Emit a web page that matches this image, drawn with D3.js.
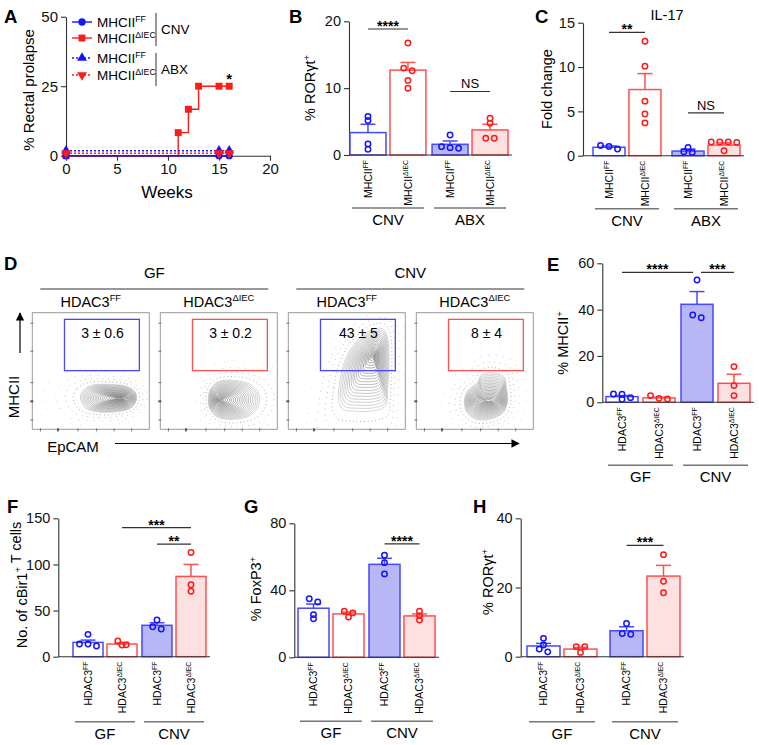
<!DOCTYPE html>
<html>
<head>
<meta charset="utf-8">
<script src="https://cdn.jsdelivr.net/npm/d3@7"></script>
<style>
  body { margin: 0; background: #fff; }
  svg { font-family: "Liberation Sans", Arial, Helvetica, sans-serif; }
</style>
</head>
<body>
<svg id="fig" width="759" height="745"></svg>
<script>
// ---------- data ----------
// A: rectal prolapse over time
const weekTicks = [0, 5, 10, 15, 20];
const prolapseTicks = [0, 25, 50];
const weeksCnvFF = [0, 15, 16];
const prolapseCnvFF = [0, 0, 0];
const weeksCnvKO = [0, 11, 12, 13, 15, 16];
const prolapseCnvKO = [0, 8.3, 16.7, 25, 25, 25];
const weeksAbx = [0, 15, 16];
const prolapseAbxFF = [1.8, 1.8, 1.8]; // drawn offset from 0 in the original
const prolapseAbxKO = [0.9, 0.9, 0.9];
const prolapseStar = [16, 28.7];

const genotypes = ["FF", "ΔIEC"];
const groupsMhc = ["CNV", "ABX"];
const groupsHdac = ["GF", "CNV"];

// B: % RORgt+
const rorB_mean = [3.35, 12.7, 1.6, 3.75];
const rorB_err = [4.6, 13.85, 2.1, 4.6];
const rorB_pts = [[5.75, 5.15, 1.65, 0.85], [16.75, 13.0, 12.6, 11.15, 10.0], [3.0, 1.25, 1.1, 1.0], [5.5, 4.75, 2.5, 2.5]];

// C: IL-17 fold change
const il17_mean = [0.95, 7.46, 0.52, 1.2];
const il17_err = [1.1, 9.26, 0.75, 1.45];
const il17_pts = [[0.75, 1.15, 1.05], [12.9, 10.1, 6.15, 4.7, 3.7], [0.94, 0.45, 0.37], [1.55, 1.55, 1.55, 1.5, 0.55]];

// D: flow gates
const flowGate = ["3 ± 0.6", "3 ± 0.2", "43 ± 5", "8 ± 4"];

// E: % MHCII+
const mhc_mean = [2.45, 1.9, 42.3, 8.2];
const mhc_err = [2.9, 2.2, 47.8, 12.1];
const mhc_pts = [[3.6, 1.3, 3.45, 2.0], [1.45, 2.9, 1.7], [52.8, 36.5, 37.7], [15.4, 7.2, 2.9]];

// F: cBir1+ T cells
const cbir_mean = [15.5, 13.7, 34, 87];
const cbir_err = [18, 14.8, 36.8, 100];
const cbir_pts = [[11.6, 24.2, 13.7, 13.7], [17, 12.6, 13], [30, 39.7, 32.5], [113, 78, 71]];

// G: % FoxP3+
const foxp3_mean = [29.3, 25.9, 55.5, 24.7];
const foxp3_err = [31.8, 27, 59.1, 25.9];
const foxp3_pts = [[35, 33, 25.5, 23], [27.5, 26.5, 24], [61, 56.5, 49.8], [27.5, 24.9, 22.3]];

// H: % RORgt+
const rorH_mean = [3.1, 2.2, 7.5, 23.3];
const rorH_err = [3.85, 2.7, 8.65, 26.4];
const rorH_pts = [[5.3, 3.4, 1.4, 2.2], [2.9, 2.9, 1.25], [9.6, 6.5, 6.7], [29.5, 21.8, 18.5]];

// ---------- drawing ----------
const svg = d3.select("#fig");
const defs = svg.append("defs");
const col = {
  blue: "#1414ff", red: "#ff1a1a",
  blueLine: "#4848ff", redLine: "#ff5050",
  blueFill: "#b7b7f6", redFill: "#fde0e0",
  axis: "#333", group: "#777"
};
const barStyle = [
  { fill: "#fff", stroke: col.blueLine, dot: col.blue },
  { fill: "#fff", stroke: col.redLine, dot: col.red },
  { fill: col.blueFill, stroke: col.blueLine, dot: col.blue },
  { fill: col.redFill, stroke: col.redLine, dot: col.red }
];

function styleAxis(size) {
  return g => {
    g.selectAll("path, line").attr("stroke", col.axis).attr("stroke-width", 1.1);
    g.selectAll("text").attr("font-size", size).attr("fill", "#111")
      .attr("font-family", '"Liberation Sans", Arial, sans-serif');
  };
}

function supText(sel, parts, size) {
  parts.forEach(([t, sup]) => {
    if (sup) sel.append("tspan").attr("font-size", size * 0.65).attr("dy", -size * 0.38).text(t)
      .clone().text("").attr("dy", size * 0.38);
    else sel.append("tspan").text(t);
  });
}

function letter(t, x, y) {
  svg.append("text").attr("x", x).attr("y", y).attr("font-size", 18.5)
    .attr("font-weight", "bold").text(t);
}

function rotLabel(x, y, parts, size) {
  const t = svg.append("text").attr("transform", `translate(${x},${y}) rotate(-90)`)
    .attr("text-anchor", "middle").attr("dy", "0.35em").attr("font-size", size);
  supText(t, parts, size);
}

// ---------- A ----------
function panelA() {
  const x = d3.scaleLinear().domain([0, 20]).range([66, 270]);
  const y = d3.scaleLinear().domain([0, 50]).range([155.7, 16.7]);
  letter("A", 4, 23);
  svg.append("g").attr("transform", "translate(66,0)")
    .call(d3.axisLeft(y).tickValues(prolapseTicks).tickSize(5).tickSizeOuter(0)).call(styleAxis(15));
  svg.append("g").attr("transform", "translate(0,155.7)")
    .call(d3.axisBottom(x).tickValues(weekTicks).tickSize(5).tickSizeOuter(0)).call(styleAxis(15));
  svg.append("text").attr("x", 167).attr("y", 198).attr("text-anchor", "middle")
    .attr("font-size", 17).text("Weeks");
  rotLabel(29, 90, [["% Rectal prolapse", false]], 15);

  const series = [
    { w: weeksCnvKO, v: prolapseCnvKO, c: col.red, dash: null, sym: d3.symbolSquare, size: 48, step: true, label: "ΔIEC" },
    { w: weeksCnvFF, v: prolapseCnvFF, c: col.blue, dash: null, sym: d3.symbolCircle, size: 42, label: "FF" },
    { w: weeksAbx, v: prolapseAbxFF, c: col.blue, dash: "2,2", sym: d3.symbolTriangle, size: 42, label: "FF" },
    { w: weeksAbx, v: prolapseAbxKO, c: col.red, dash: "2,2", sym: d3.symbolTriangle, size: 42, flip: true, label: "ΔIEC" }
  ];
  series.forEach(s => {
    const line = d3.line().x(d => x(d[0])).y(d => y(d[1]));
    if (s.step) line.curve(d3.curveStepAfter);
    const pts = s.w.map((w, i) => [w, s.v[i]]);
    svg.append("path").attr("d", line(pts)).attr("fill", "none").attr("stroke", s.c)
      .attr("stroke-width", 1.4).attr("stroke-dasharray", s.dash);
    svg.selectAll(null).data(pts).enter().append("path")
      .attr("d", d3.symbol(s.sym, s.size)())
      .attr("transform", d => `translate(${x(d[0])},${y(d[1])})${s.flip ? " rotate(180)" : ""}`)
      .attr("fill", s.c);
  });
  svg.append("text").attr("x", x(prolapseStar[0])).attr("y", y(prolapseStar[1]) + 8)
    .attr("text-anchor", "middle").attr("font-size", 15).attr("font-weight", "bold").text("*");

  // legend
  const order = [series[1], series[0], series[2], series[3]];
  const rowY = [22, 38, 58, 75];
  order.forEach((s, i) => {
    svg.append("line").attr("x1", 72).attr("x2", 92).attr("y1", rowY[i]).attr("y2", rowY[i])
      .attr("stroke", s.c).attr("stroke-width", 1.4).attr("stroke-dasharray", s.dash);
    svg.append("path").attr("d", d3.symbol(s.sym, s.size)())
      .attr("transform", `translate(82,${rowY[i]})${s.flip ? " rotate(180)" : ""}`).attr("fill", s.c);
    const t = svg.append("text").attr("x", 97).attr("y", rowY[i]).attr("dy", "0.35em").attr("font-size", 13.5);
    supText(t, [["MHCII", false], [s.label, true]], 13.5);
  });
  [[13, 46, "CNV"], [53, 86, "ABX"]].forEach(([a, b, t]) => {
    svg.append("line").attr("x1", 156).attr("x2", 156).attr("y1", a).attr("y2", b)
      .attr("stroke", "#333").attr("stroke-width", 1);
    svg.append("text").attr("x", 161).attr("y", (a + b) / 2).attr("dy", "0.35em")
      .attr("font-size", 13.5).text(t);
  });
}

// ---------- bar panels ----------
function barPanel(cfg) {
  const y = d3.scaleLinear().domain([0, cfg.max]).range([cfg.y0, cfg.y1]);
  const outer = d3.scaleBand().domain(cfg.groups).range([cfg.x0, cfg.x1]).paddingInner(cfg.gp);
  const inner = d3.scaleBand().domain(genotypes).range([0, outer.bandwidth()]).paddingInner(cfg.bp);
  const bw = inner.bandwidth();
  const left = i => outer(cfg.groups[Math.floor(i / 2)]) + inner(genotypes[i % 2]);
  const cx = i => left(i) + bw / 2;

  letter(cfg.letter[0], cfg.letter[1], cfg.letter[2]);
  svg.append("g").attr("transform", `translate(${cfg.ax},0)`)
    .call(d3.axisLeft(y).tickValues(cfg.ticks).tickSize(5).tickSizeOuter(0)).call(styleAxis(14.5));
  rotLabel(cfg.ylab[0], cfg.ylab[1], cfg.ylab[2], 14.5);

  const bars = d3.range(4).map(i => ({ i, mean: cfg.mean[i], err: cfg.err[i], pts: cfg.pts[i] }));
  const g = svg.append("g");
  g.selectAll("rect").data(bars).enter().append("rect")
    .attr("x", d => left(d.i)).attr("width", bw)
    .attr("y", d => y(d.mean)).attr("height", d => y(0) - y(d.mean))
    .attr("fill", d => barStyle[d.i].fill).attr("stroke", d => barStyle[d.i].stroke)
    .attr("stroke-width", 1.5);
  bars.forEach(d => {
    const s = barStyle[d.i].stroke;
    g.append("line").attr("x1", cx(d.i)).attr("x2", cx(d.i)).attr("y1", y(d.mean)).attr("y2", y(d.err))
      .attr("stroke", s).attr("stroke-width", 1.5);
    g.append("line").attr("x1", cx(d.i) - 7.5).attr("x2", cx(d.i) + 7.5).attr("y1", y(d.err)).attr("y2", y(d.err))
      .attr("stroke", s).attr("stroke-width", 1.5);
    // arrange dots in rows, like a column scatter
    const sorted = d.pts.slice().sort((a, b) => b - a);
    const rows = [];
    sorted.forEach(v => {
      const r = rows[rows.length - 1];
      if (r && Math.abs(y(v) - y(r[0])) < 4) r.push(v); else rows.push([v]);
    });
    rows.forEach(r => r.forEach((v, k) => {
      g.append("circle").attr("cx", cx(d.i) + (k - (r.length - 1) / 2) * 8.5).attr("cy", y(v))
        .attr("r", 2.7).attr("fill", "none").attr("stroke", barStyle[d.i].dot).attr("stroke-width", 1.5);
    }));
  });
  // x baseline
  svg.append("line").attr("x1", cfg.ax).attr("x2", cfg.x1 + 4).attr("y1", y(0)).attr("y2", y(0))
    .attr("stroke", col.axis).attr("stroke-width", 1.1);

  // rotated category labels
  bars.forEach(d => {
    const t = svg.append("text").attr("transform", `translate(${cx(d.i)},${y(0) + 5}) rotate(-90)`)
      .attr("text-anchor", "end").attr("dy", "0.35em").attr("font-size", 10.5);
    supText(t, [[cfg.base, false], [genotypes[d.i % 2], true]], 10.5);
  });
  // group labels
  cfg.groups.forEach(gname => {
    const a = outer(gname) + 2, b = outer(gname) + outer.bandwidth() - 2;
    svg.append("line").attr("x1", a).attr("x2", b).attr("y1", y(0) + cfg.gl).attr("y2", y(0) + cfg.gl)
      .attr("stroke", col.group).attr("stroke-width", 1.5);
    svg.append("text").attr("x", (a + b) / 2).attr("y", y(0) + cfg.gl + 17)
      .attr("text-anchor", "middle").attr("font-size", 15).text(gname);
  });
  // significance
  cfg.sig.forEach(([a, b, v, t], k) => {
    let x1 = cx(a), x2 = cx(b);
    if (cfg.sig.some((o, m) => m !== k && o[0] === b && o[2] === v)) x2 -= 4;
    if (cfg.sig.some((o, m) => m !== k && o[1] === a && o[2] === v)) x1 += 4;
    svg.append("line").attr("x1", x1).attr("x2", x2).attr("y1", y(v)).attr("y2", y(v))
      .attr("stroke", "#333").attr("stroke-width", 1.2);
    const star = t.includes("*");
    svg.append("text").attr("x", (x1 + x2) / 2).attr("y", y(v) + (star ? 2 : -3))
      .attr("text-anchor", "middle").attr("font-size", star ? 14 : 13)
      .attr("font-weight", star ? "bold" : "normal").text(t);
  });
  if (cfg.title) svg.append("text").attr("x", cfg.title[1]).attr("y", cfg.title[2])
    .attr("text-anchor", "middle").attr("font-size", 14.5).text(cfg.title[0]);
}

// ---------- D: flow plots ----------
const flowOutline = [
  [[41, 27], [44, 34], [52, 38], [66, 38.5], [80, 37], [88, 32], [89, 25], [84, 18], [72, 15], [56, 15], [46, 18]],
  [[41, 25], [43, 35], [50, 41], [63, 42], [76, 39], [84, 31], [84, 20], [77, 12], [63, 8.5], [50, 10], [43, 16]],
  [[43, 24], [44, 40], [47, 55], [54, 70], [63, 80], [73, 86], [81, 86], [85, 78], [86, 60], [85, 35], [83, 20], [74, 16], [58, 15.5], [47, 17]],
  [[41, 24], [44, 33], [52, 40], [56, 47], [66, 48.5], [75, 45], [77, 36], [78, 24], [74, 14], [62, 8.5], [50, 9], [43, 15]]
];
const flowPeak = [[75, 26.6], [52, 25], [72, 63], [61.5, 24.5]];
const flowShrink = [0.6, 0.85, 1, 0.5];

function panelD() {
  const fb = d3.scaleBand().domain(d3.range(4)).range([32.3, 533.3]).paddingInner(0.086);
  const top = 312.7, bottom = 429.3;
  letter("D", 4, 270);
  const line = d3.line().curve(d3.curveCatmullRomClosed.alpha(0.5));
  d3.range(4).forEach(i => {
    const fx = d3.scaleLinear().domain([0, 100]).range([fb(i), fb(i) + fb.bandwidth()]);
    const fy = d3.scaleLinear().domain([0, 100]).range([bottom, top]);
    defs.append("clipPath").attr("id", "fc" + i).append("rect")
      .attr("x", fb(i)).attr("y", top).attr("width", fb.bandwidth()).attr("height", bottom - top);
    const pg = svg.append("g").attr("clip-path", `url(#fc${i})`);
    const pk = flowPeak[i];
    const ring = (s, sx) => flowOutline[i].map(p => [fx(pk[0] + (p[0] - pk[0]) * sx), fy(pk[1] + (p[1] - pk[1]) * s)]);
    // sparse events around the population, drawn as dotted rings
    [1.18, 1.38, 1.62, 1.95].forEach((s, k) => {
      pg.append("path").attr("d", line(ring(s, s))).attr("fill", "none")
        .attr("stroke", "#666").attr("stroke-width", 0.9)
        .attr("stroke-dasharray", `0.7,${3 + k * 2}`).attr("stroke-opacity", 0.8 - k * 0.15);
    });
    // nested contours
    const n = 20;
    for (let k = 0; k < n; k++) {
      const s = Math.pow(1 - k / n, 1.1);
      pg.append("path").attr("d", line(ring(s, Math.pow(s, flowShrink[i])))).attr("fill", "none")
        .attr("stroke", "#333").attr("stroke-opacity", 0.35 + 0.5 * k / n).attr("stroke-width", 0.55);
    }
    svg.append("rect").attr("x", fb(i)).attr("y", top).attr("width", fb.bandwidth()).attr("height", bottom - top)
      .attr("fill", "none").attr("stroke", "#9a9a9a").attr("stroke-width", 1);
    [91, 67, 40, 24, 8].forEach((v, k) => svg.append("line")
      .attr("x1", fb(i) - 2).attr("x2", fb(i) + 1).attr("y1", fy(v)).attr("y2", fy(v))
      .attr("stroke", "#555").attr("stroke-width", k === 3 ? 2 : 0.8));
    [7, 22, 39, 55, 70, 85].forEach((v, k) => svg.append("line")
      .attr("x1", fx(v)).attr("x2", fx(v)).attr("y1", bottom - 1).attr("y2", bottom + 2)
      .attr("stroke", "#555").attr("stroke-width", k === 1 ? 2 : 0.8));
    const c = i % 2 === 0 ? col.blueLine : col.redLine;
    svg.append("rect").attr("x", fx(27.5)).attr("y", fy(94.3)).attr("width", fx(91.5) - fx(27.5))
      .attr("height", fy(50.3) - fy(94.3)).attr("fill", "none").attr("stroke", c).attr("stroke-width", 1.3);
    svg.append("text").attr("x", fx(60)).attr("y", fy(82.3)).attr("dy", "0.35em")
      .attr("text-anchor", "middle").attr("font-size", 14).text(flowGate[i]);
    const t = svg.append("text").attr("x", fx(50)).attr("y", 307).attr("text-anchor", "middle").attr("font-size", 14.5);
    supText(t, [["HDAC3", false], [genotypes[i % 2], true]], 14.5);
  });
  groupsHdac.forEach((gname, j) => {
    const a = fb(2 * j) + 8, b = fb(2 * j + 1) + fb.bandwidth() - 9;
    svg.append("line").attr("x1", a).attr("x2", b).attr("y1", 289).attr("y2", 289)
      .attr("stroke", col.group).attr("stroke-width", 1.5);
    svg.append("text").attr("x", (a + b) / 2).attr("y", 278).attr("text-anchor", "middle")
      .attr("font-size", 15).text(gname);
  });
  // axis arrows
  defs.append("marker").attr("id", "arr").attr("viewBox", "0 0 10 10")
    .attr("refX", 9).attr("refY", 5).attr("markerWidth", 7).attr("markerHeight", 7)
    .attr("orient", "auto").append("path").attr("d", "M0,0L10,5L0,10Z").attr("fill", "#000");
  svg.append("line").attr("x1", 20).attr("x2", 20).attr("y1", 353).attr("y2", 313)
    .attr("stroke", "#000").attr("stroke-width", 1.2).attr("marker-end", "url(#arr)");
  rotLabel(14, 397, [["MHCII", false]], 15);
  svg.append("line").attr("x1", 115).attr("x2", 519).attr("y1", 443.5).attr("y2", 443.5)
    .attr("stroke", "#000").attr("stroke-width", 1.2).attr("marker-end", "url(#arr)");
  svg.append("text").attr("x", 73).attr("y", 452).attr("text-anchor", "middle").attr("font-size", 15).text("EpCAM");
}

panelA();
barPanel({
  letter: ["B", 289, 23], base: "MHCII", groups: groupsMhc,
  mean: rorB_mean, err: rorB_err, pts: rorB_pts, max: 20, ticks: [0, 10, 20],
  y0: 155, y1: 21.3, ax: 349, x0: 350, x1: 508, gp: 0.075, bp: 0.1, gl: 53,
  ylab: [310, 88, [["% RORγt", false], ["+", true]]],
  sig: [[0, 1, 18.85, "****"], [2, 3, 9.5, "NS"]]
});
barPanel({
  letter: ["C", 535, 23], base: "MHCII", groups: groupsMhc, title: ["IL-17", 667, 20],
  mean: il17_mean, err: il17_err, pts: il17_pts, max: 15, ticks: [0, 5, 10, 15],
  y0: 155.7, y1: 22.7, ax: 583, x0: 593, x1: 740, gp: 0.14, bp: 0.11, gl: 53,
  ylab: [547, 89, [["Fold change", false]]],
  sig: [[0, 1, 13.9, "**"], [2, 3, 4.84, "NS"]]
});
panelD();
barPanel({
  letter: ["E", 547, 271], base: "HDAC3", groups: groupsHdac,
  mean: mhc_mean, err: mhc_err, pts: mhc_pts, max: 60, ticks: [0, 20, 40, 60],
  y0: 402.3, y1: 263.3, ax: 602.3, x0: 606, x1: 750, gp: 0.08, bp: 0.135, gl: 63,
  ylab: [563, 343, [["% MHCII", false], ["+", true]]],
  sig: [[0, 2, 56.1, "****"], [2, 3, 56.1, "***"]]
});
barPanel({
  letter: ["F", 7, 513], base: "HDAC3", groups: groupsHdac,
  mean: cbir_mean, err: cbir_err, pts: cbir_pts, max: 150, ticks: [0, 50, 100, 150],
  y0: 656.7, y1: 518.3, ax: 58.3, x0: 73, x1: 206, gp: 0.072, bp: 0.118, gl: 65,
  ylab: [21.7, 585, [["No. of cBir1", false], ["+", true], [" T cells", false]]],
  sig: [[1, 3, 140, "***"], [2, 3, 122, "**"]]
});
barPanel({
  letter: ["G", 244, 513], base: "HDAC3", groups: groupsHdac,
  mean: foxp3_mean, err: foxp3_err, pts: foxp3_pts, max: 80, ticks: [0, 40, 80],
  y0: 657.3, y1: 523.3, ax: 294.3, x0: 298, x1: 435, gp: 0.07, bp: 0.114, gl: 64,
  ylab: [256, 589, [["% FoxP3", false], ["+", true]]],
  sig: [[2, 3, 67.7, "****"]]
});
barPanel({
  letter: ["H", 473, 513], base: "HDAC3", groups: groupsHdac,
  mean: rorH_mean, err: rorH_err, pts: rorH_pts, max: 40, ticks: [0, 20, 40],
  y0: 656.7, y1: 518.3, ax: 520.7, x0: 527, x1: 680, gp: 0.157, bp: 0.108, gl: 65,
  ylab: [488, 582, [["% RORγt", false], ["+", true]]],
  sig: [[2, 3, 32.2, "***"]]
});
</script>
</body>
</html>
